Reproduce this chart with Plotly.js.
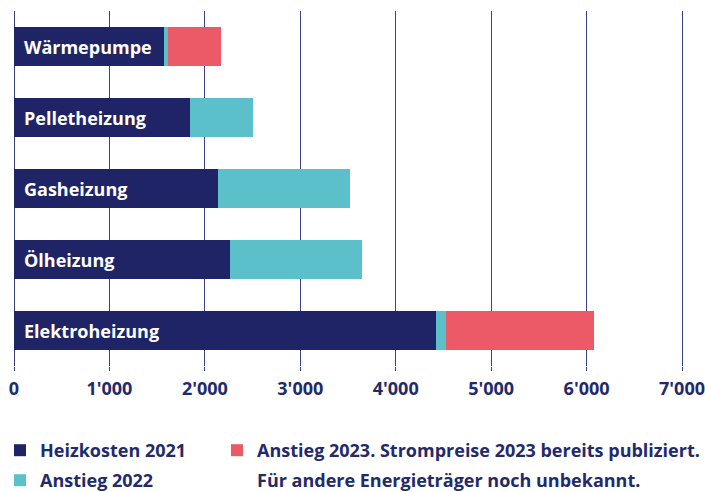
<!DOCTYPE html>
<html><head><meta charset="utf-8">
<script src="https://cdn.plot.ly/plotly-3.0.1.min.js"></script>
<style>html,body{margin:0;padding:0;background:#fff}</style>
</head><body>
<div id="chart" style="width:705px;height:492px"></div>
<script>
const categories = ["Wärmepumpe","Pelletheizung","Gasheizung","Ölheizung","Elektroheizung"];
const heizkosten2021 = [1577, 1847, 2140, 2268, 4425];
const anstieg2022 = [36, 653, 1386, 1378, 97];
const anstieg2023 = [559, 0, 0, 0, 1558];
const tickVals = [0,1000,2000,3000,4000,5000,6000,7000];
const tickText = ["0","1'000","2'000","3'000","4'000","5'000","6'000","7'000"];
const seriesNames = ["Heizkosten 2021","Anstieg 2022","Anstieg 2023. Strompreise 2023 bereits publiziert."];
const noteLine = "Für andere Energieträger noch unbekannt.";

const navy = "#1f2467", teal = "#5bc0c9", red = "#ec5967", textNavy = "#232a6b";
const font = {family: "Open Sans, sans-serif", size: 18, color: textNavy, weight: 700};

function bar(vals, name, color, legend) {
  return {type: "bar", orientation: "h", y: categories, x: vals, name: name,
    marker: {color: color, line: {width: 0}}, legend: legend, hoverinfo: "skip"};
}
const data = [
  bar(heizkosten2021, seriesNames[0], navy, "legend"),
  bar(anstieg2022, seriesNames[1], teal, "legend3"),
  bar(anstieg2023, seriesNames[2], red, "legend2")
];

const W = 705, H = 492, ML = 14, MR = 20, MT = 11, MB = 126;
const PW = W - ML - MR, PH = H - MT - MB;
const xMax = PW * 7000 / 668;

const annotations = categories.map(c => ({
  x: 0, y: c, xref: "x", yref: "y", xanchor: "left", yanchor: "middle",
  xshift: 8, text: c, showarrow: false,
  font: {family: "Open Sans, sans-serif", size: 18, color: "#ffffff", weight: 700}
}));
annotations.push({
  xref: "paper", yref: "paper", x: (255 - ML) / PW, y: (H - MB - 480) / PH,
  xanchor: "left", yanchor: "middle", text: noteLine, showarrow: false,
  font: font
});

function leg(x, top) {
  return {xref: "container", yref: "container", x: x, y: 1 - top / H,
    xanchor: "left", yanchor: "top", orientation: "h",
    font: font, bgcolor: "rgba(0,0,0,0)"};
}

const layout = {
  width: W, height: H,
  margin: {l: ML, r: MR, t: MT, b: MB},
  paper_bgcolor: "#fff", plot_bgcolor: "#fff",
  barmode: "stack", bargap: 0.44,
  font: font,
  xaxis: {range: [0, xMax], tickvals: tickVals, ticktext: tickText,
    showgrid: true, gridcolor: "#3b4189", gridwidth: 1,
    zeroline: true, zerolinecolor: "#3b4189", zerolinewidth: 1,
    ticks: "outside", ticklen: 4, tickcolor: "#3b4189", ticklabelstandoff: 2,
    ticklabeloverflow: "allow",
    tickfont: {family: "Open Sans, sans-serif", size: 18, color: textNavy, weight: 700},
    fixedrange: true},
  yaxis: {autorange: "reversed", showticklabels: false, showgrid: false, zeroline: false, fixedrange: true},
  showlegend: true,
  legend: leg(0, 432),
  legend3: leg(0, 462),
  legend2: leg(217 / W, 432),
  annotations: annotations
};
Plotly.newPlot("chart", data, layout, {displayModeBar: false, staticPlot: true});
</script>
</body></html>
